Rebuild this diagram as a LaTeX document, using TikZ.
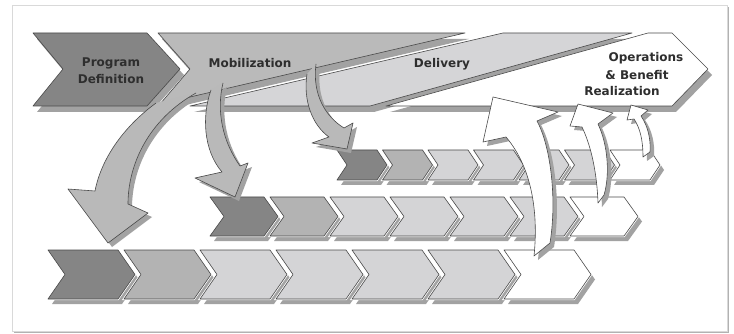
\documentclass[tikz,border=0pt]{standalone}
\usepackage{fontspec}
\setmainfont{DejaVu Sans}
\definecolor{cdark}{HTML}{858585}
\definecolor{cmid}{HTML}{B3B3B3}
\definecolor{clight}{HTML}{D4D4D6}
\definecolor{cmob}{HTML}{BABABA}
\definecolor{cdel}{HTML}{D5D5D7}
\definecolor{cshade}{HTML}{A2A2A2}
\definecolor{cedge}{HTML}{4A4A4A}
\definecolor{carrow}{HTML}{B9B9B9}

% chevron outline: left x, top y, bottom y, body width, point depth
\newcommand{\chevpath}[5]{(#1,#2) -- ({#1+#4},#2) -- ({#1+#4+#5},{(#2+#3)/2}) -- ({#1+#4},#3) -- (#1,#3) -- ({#1+#5},{(#2+#3)/2}) -- cycle}
% one chevron with its drop shadow and white halo
\newcommand{\chev}[6]{%
  \fill[cshade, shift={(4,5)}] \chevpath{#1}{#2}{#3}{#4}{#5};
  \draw[white, line width=2.2pt, line join=miter] \chevpath{#1}{#2}{#3}{#4}{#5};
  \draw[edgeline, fill=#6] \chevpath{#1}{#2}{#3}{#4}{#5};}

\begin{document}
\begin{tikzpicture}[x=1pt, y=-1pt,
  edgeline/.style={draw=cedge, line width=0.6pt, line join=round},
  dropshade/.style={fill=cshade, shift={(4,6)}},
  lbl/.style={font=\bfseries\fontsize{12}{17}\selectfont, text=black!82, inner sep=0pt, align=center}]
\useasboundingbox (0,0) rectangle (734,334);

% framed panel
\fill[black!30] (14,7) rectangle (729,333);
\draw[draw=black!15, fill=white] (12,5) rectangle (727,331);

% ---- phase band ----
\def\pdpath{(33,33) -- (147,33) -- (180,69) -- (147,106) -- (33,106) -- (63,69) -- cycle}
\def\mobpath{(158,33) -- (465,33) -- (160,104) -- (190,69) -- cycle}
\def\delpath{(503,33) -- (632,33) -- (370,106) -- (190,106) -- cycle}
\def\opspath{(648,33) -- (672,33) -- (708,69) -- (672,106) -- (386,106) -- cycle}

\fill[dropshade] \pdpath;
\draw[edgeline, fill=cdark] \pdpath;
\fill[dropshade] \mobpath;
\draw[edgeline, fill=cmob] \mobpath;
\fill[dropshade] \delpath;
\draw[edgeline, fill=cdel] \delpath;
\fill[dropshade] \opspath;
\draw[edgeline, fill=white] \opspath;

% ---- rows of chevrons ----
\foreach \i/\c in {0/cdark,1/cmid,2/clight,3/clight,4/clight,5/clight,6/white}{
  \pgfmathsetmacro\xx{337+\i*45.5}
  \chev{\xx}{150}{180}{40}{10}{\c}}
\foreach \i/\c in {0/cdark,1/cmid,2/clight,3/clight,4/clight,5/clight,6/white}{
  \pgfmathsetmacro\xx{210+\i*60}
  \chev{\xx}{197}{236}{54}{14}{\c}}
\foreach \i/\c in {0/cdark,1/cmid,2/clight,3/clight,4/clight,5/clight,6/white}{
  \pgfmathsetmacro\xx{48+\i*76}
  \chev{\xx}{250}{299}{70}{17}{\c}}

% ---- arrows from the mobilization band down to the rows ----
\def\arrA{(156,103) .. controls (122,128) and (101,160) .. (95,191) -- (68,189) -- (108,243) -- (148,213) -- (128,204) .. controls (128,165) and (148,120) .. (196,93)}
\def\arrB{(211,90) .. controls (202,115) and (203,150) .. (222,172) -- (195,178) -- (235,197) -- (248,163) -- (240,166) .. controls (223,142) and (216,112) .. (223,83)}
\def\arrC{(307,74) .. controls (303,100) and (312,125) .. (329,137) -- (312,143) -- (347,149) -- (353,123) -- (344,128) .. controls (326,117) and (312,95) .. (316,64)}
\foreach \p in {\arrA,\arrB,\arrC}{
  \fill[cshade, shift={(4,4)}] \p -- cycle;
  \fill[carrow] \p -- cycle;
  \draw[edgeline] \p;}

% ---- arrows from the rows up to operations ----
\def\arrD{(534,256) .. controls (538,218) and (534,170) .. (506,137) -- (483,142) -- (493,97) -- (558,112) -- (537,121) .. controls (551,147) and (557,200) .. (550,243) -- cycle}
\def\arrE{(598,203) .. controls (597,175) and (592,148) .. (582,127) -- (570,126) -- (578,104) -- (613,113) -- (598,124) .. controls (608,145) and (610,175) .. (604,195) -- cycle}
\def\arrF{(643,157) .. controls (643,140) and (640,128) .. (634,119) -- (627,120) -- (631,105) -- (648,110) -- (641,116) .. controls (648,126) and (651,140) .. (650,152) -- cycle}
\foreach \p in {\arrD,\arrE,\arrF}{
  \fill[cshade, shift={(4,4)}] \p;
  \draw[edgeline, fill=white] \p;}

% ---- labels ----
\node[lbl] (pd) at (111,71) {Program\\Definition};
\node[lbl] (mob) at (250,63) {Mobilization};
\node[lbl] (del) at (442,64) {Delivery};
\node[lbl] (opsA) at (646,58) {Operations};
\node[lbl] (opsB) at (637,75) {\& Benefit};
\node[lbl] (opsC) at (622,91) {Realization};
\end{tikzpicture}
\end{document}
